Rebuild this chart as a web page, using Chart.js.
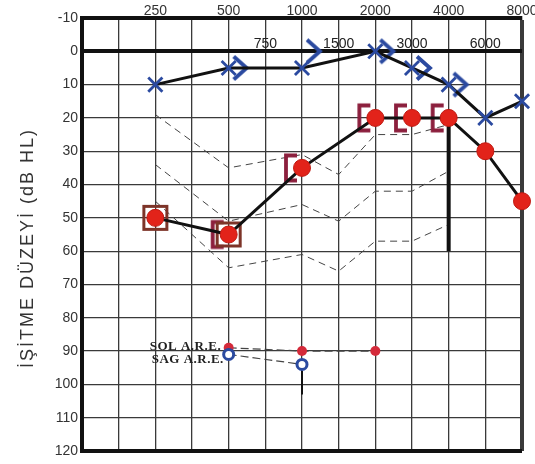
<!DOCTYPE html>
<html>
<head>
<meta charset="utf-8">
<script src="https://cdn.jsdelivr.net/npm/chart.js@4/dist/chart.umd.min.js"></script>
<style>
  html, body { margin: 0; padding: 0; background: #ffffff; }
  #wrap { width: 535px; height: 464px; }
</style>
</head>
<body>
<div id="wrap"><canvas id="audiogram" width="535" height="464"></canvas></div>
<script>
// Test frequencies (Hz)
const freqs = [250, 500, 1000, 2000, 3000, 4000, 6000, 8000];
// Left ear air conduction (X)
const leftAir = [10, 5, 5, 0, 5, 10, 20, 15];
// Right ear air conduction (O)
const rightAir = [50, 55, 35, 20, 20, 20, 30, 45];
// Left ear bone conduction (>)
const leftBoneFreqs = [500, 1000, 2000, 3000, 4000];
const leftBone = [5, 0, 0, 5, 10];
// Right ear masked bone conduction ([)
const rightBoneFreqs = [500, 1000, 2000, 3000, 4000];
const rightBone = [55, 35, 20, 20, 20];
// Right ear masked air conduction (square)
const rightMaskedFreqs = [250, 500];
const rightMasked = [50, 55];
// Dashed reference curves
const curveFreqs = [250, 500, 1000, 1500, 2000, 3000, 4000];
const curveUpper = [19, 35, 31, 37, 25, 25, 22];
const curveMiddle = [34, 51, 46, 51, 42, 42, 36];
const curveLower = [45, 65, 61, 66, 57, 57, 52];
// Acoustic reflex thresholds
const reflexLeftFreqs = [500, 1000, 2000];
const reflexLeft = [89, 90, 90];
const reflexRightFreqs = [500, 1000];
const reflexRight = [91, 94];
// Vertical markers
const bar4000 = [20, 60];
const bar1000 = [96, 103];
// Axis labels
const octaveLabels = [250, 500, 1000, 2000, 4000, 8000];
const halfOctaveLabels = [750, 1500, 3000, 6000];
const yTitle = 'İŞİTME DÜZEYİ (dB HL)';
const reflexTexts = ['SOL A.R.E.', 'SAG A.R.E.'];

// Audiogram frequency axis: octaves equally spaced from 125 Hz,
// inter-octave frequencies placed halfway between.
function audioPos(f) {
  return halfOctaveLabels.includes(f) ? Math.log2(f / 1.5 / 125) + 0.5 : Math.log2(f / 125);
}
const pts = (fs, vs) => fs.map((f, i) => ({ x: audioPos(f), y: vs[i] }));

const BLUE = '#2b4aa0';
const RED = '#e2231a';
const BRACKET = '#8c1f3d';
const BOX = '#7d3428';

// Custom symbol glyphs
function glyph(w, h, draw) {
  const c = document.createElement('canvas');
  c.width = w; c.height = h;
  const g = c.getContext('2d');
  g.lineCap = 'butt';
  g.lineJoin = 'miter';
  draw(g, w / 2, h / 2);
  return c;
}
const boneLeft = glyph(48, 30, (g, cx, cy) => {
  g.strokeStyle = BLUE; g.lineWidth = 3.8;
  g.beginPath(); g.moveTo(cx + 5, cy - 11.5); g.lineTo(cx + 18, cy); g.lineTo(cx + 5, cy + 11.5); g.stroke();
});
const boneRightMasked = glyph(44, 32, (g, cx, cy) => {
  g.strokeStyle = BRACKET; g.lineWidth = 3.8;
  g.beginPath(); g.moveTo(cx - 5, cy - 12.5); g.lineTo(cx - 16, cy - 12.5); g.lineTo(cx - 16, cy + 12.5); g.lineTo(cx - 5, cy + 12.5); g.stroke();
});
const maskedBox = glyph(30, 30, (g, cx, cy) => {
  g.strokeStyle = BOX; g.lineWidth = 3;
  g.strokeRect(cx - 11.5, cy - 11.5, 23, 23);
});

const dashedCurve = (data) => ({
  data, borderColor: '#444', borderWidth: 1, borderDash: [7, 5],
  pointRadius: 0, fill: false, order: 20
});

// Extra text: y title, inter-octave labels, reflex labels
const annotations = {
  id: 'annotations',
  beforeDraw(chart) {
    const { ctx } = chart;
    ctx.save();
    ctx.fillStyle = '#ffffff';
    ctx.fillRect(0, 0, chart.width, chart.height);
    ctx.restore();
  },
  afterDraw(chart) {
    const { ctx, scales: { x, y } } = chart;
    ctx.save();
    // y title
    ctx.translate(28, 248);
    ctx.rotate(-Math.PI / 2);
    ctx.font = '18px "Liberation Sans", Arial, sans-serif';
    ctx.letterSpacing = '2px';
    ctx.fillStyle = '#333';
    ctx.textAlign = 'center';
    ctx.textBaseline = 'middle';
    ctx.fillText(yTitle, 0, 0);
    ctx.restore();

    ctx.save();
    ctx.font = '14px "Liberation Sans", Arial, sans-serif';
    ctx.fillStyle = '#222';
    ctx.textAlign = 'center';
    ctx.textBaseline = 'alphabetic';
    const y0 = y.getPixelForValue(0);
    halfOctaveLabels.forEach(f => ctx.fillText(String(f), x.getPixelForValue(audioPos(f)), y0 - 3));
    ctx.restore();

    ctx.save();
    ctx.font = 'bold 13px "Liberation Serif", "Times New Roman", serif';
    ctx.letterSpacing = '0.5px';
    ctx.fillStyle = '#222';
    ctx.textAlign = 'left';
    ctx.textBaseline = 'middle';
    const xl = x.getPixelForValue(audioPos(500)) - 79;
    ctx.fillText(reflexTexts[0], xl, y.getPixelForValue(88.7));
    ctx.fillText(reflexTexts[1], xl + 2, y.getPixelForValue(92.6));
    ctx.restore();
  }
};

new Chart(document.getElementById('audiogram'), {
  type: 'line',
  data: {
    datasets: [
      dashedCurve(pts(curveFreqs, curveUpper)),
      dashedCurve(pts(curveFreqs, curveMiddle)),
      dashedCurve(pts(curveFreqs, curveLower)),
      {
        data: pts([4000, 4000], bar4000), borderColor: '#111', borderWidth: 4,
        pointRadius: 0, order: 15
      },
      {
        data: pts([1000, 1000], bar1000), borderColor: '#111', borderWidth: 2,
        pointRadius: 0, order: 15
      },
      {
        data: pts(reflexLeftFreqs, reflexLeft), borderColor: '#444', borderWidth: 1.2, borderDash: [8, 4],
        pointRadius: 5, pointBackgroundColor: '#d42a3a', pointBorderWidth: 0, order: 6
      },
      {
        data: pts(reflexRightFreqs, reflexRight), borderColor: '#444', borderWidth: 1.2, borderDash: [8, 4],
        pointRadius: 5, pointBackgroundColor: '#ffffff', pointBorderColor: BLUE, pointBorderWidth: 3, order: 5
      },
      {
        data: pts(rightMaskedFreqs, rightMasked), showLine: false,
        pointStyle: maskedBox, pointRadius: 12, order: 9
      },
      {
        data: pts(rightBoneFreqs, rightBone), showLine: false,
        pointStyle: boneRightMasked, pointRadius: 12, order: 9
      },
      {
        data: pts(leftBoneFreqs, leftBone), showLine: false,
        pointStyle: boneLeft, pointRadius: 12, order: 3
      },
      {
        data: pts(freqs, leftAir), borderColor: '#111', borderWidth: 3,
        pointStyle: 'crossRot', pointRadius: 10, pointBorderColor: BLUE, pointBorderWidth: 2.8, order: 2
      },
      {
        data: pts(freqs, rightAir), borderColor: '#111', borderWidth: 3,
        pointStyle: 'circle', pointRadius: 8.5, pointBackgroundColor: RED,
        pointBorderColor: '#c01a12', pointBorderWidth: 1, order: 1
      }
    ].map(d => Object.assign({ clip: false, tension: 0, pointHoverRadius: d.pointRadius }, d))
  },
  options: {
    responsive: false,
    animation: false,
    events: [],
    layout: { padding: { left: 0, right: 13, top: 0, bottom: 10 } },
    plugins: { legend: { display: false }, tooltip: { enabled: false }, title: { display: false } },
    scales: {
      x: {
        type: 'linear', position: 'top', min: 0, max: 6,
        afterFit(s) { s.height = 18; s.paddingLeft = 0; s.paddingRight = 0; },
        ticks: {
          stepSize: 0.5, autoSkip: false, maxRotation: 0, padding: -2,
          color: '#333', font: { family: '"Liberation Sans", Arial, sans-serif', size: 14 },
          callback: v => (Number.isInteger(v) && v >= 1) ? String(octaveLabels[v - 1]) : ''
        },
        grid: {
          drawTicks: false,
          color: '#3a3a3a',
          lineWidth: c => (c.tick && c.tick.value === 6) ? 4 : 1.3
        },
        border: { display: true, width: 4, color: '#111' }
      },
      y: {
        type: 'linear', position: 'left', reverse: true, min: -10, max: 120,
        afterFit(s) { s.width = 82; s.paddingTop = 0; s.paddingBottom = 0; },
        ticks: {
          stepSize: 10, padding: 4, color: '#333',
          font: { family: '"Liberation Sans", Arial, sans-serif', size: 14 }
        },
        grid: {
          drawTicks: false,
          color: c => (c.tick && (c.tick.value === 0 || c.tick.value === 120)) ? '#111' : '#3a3a3a',
          lineWidth: c => (c.tick && (c.tick.value === 0 || c.tick.value === 120)) ? 4 : 1.3
        },
        border: { display: true, width: 4, color: '#111' }
      }
    }
  },
  plugins: [annotations]
});
</script>
</body>
</html>
